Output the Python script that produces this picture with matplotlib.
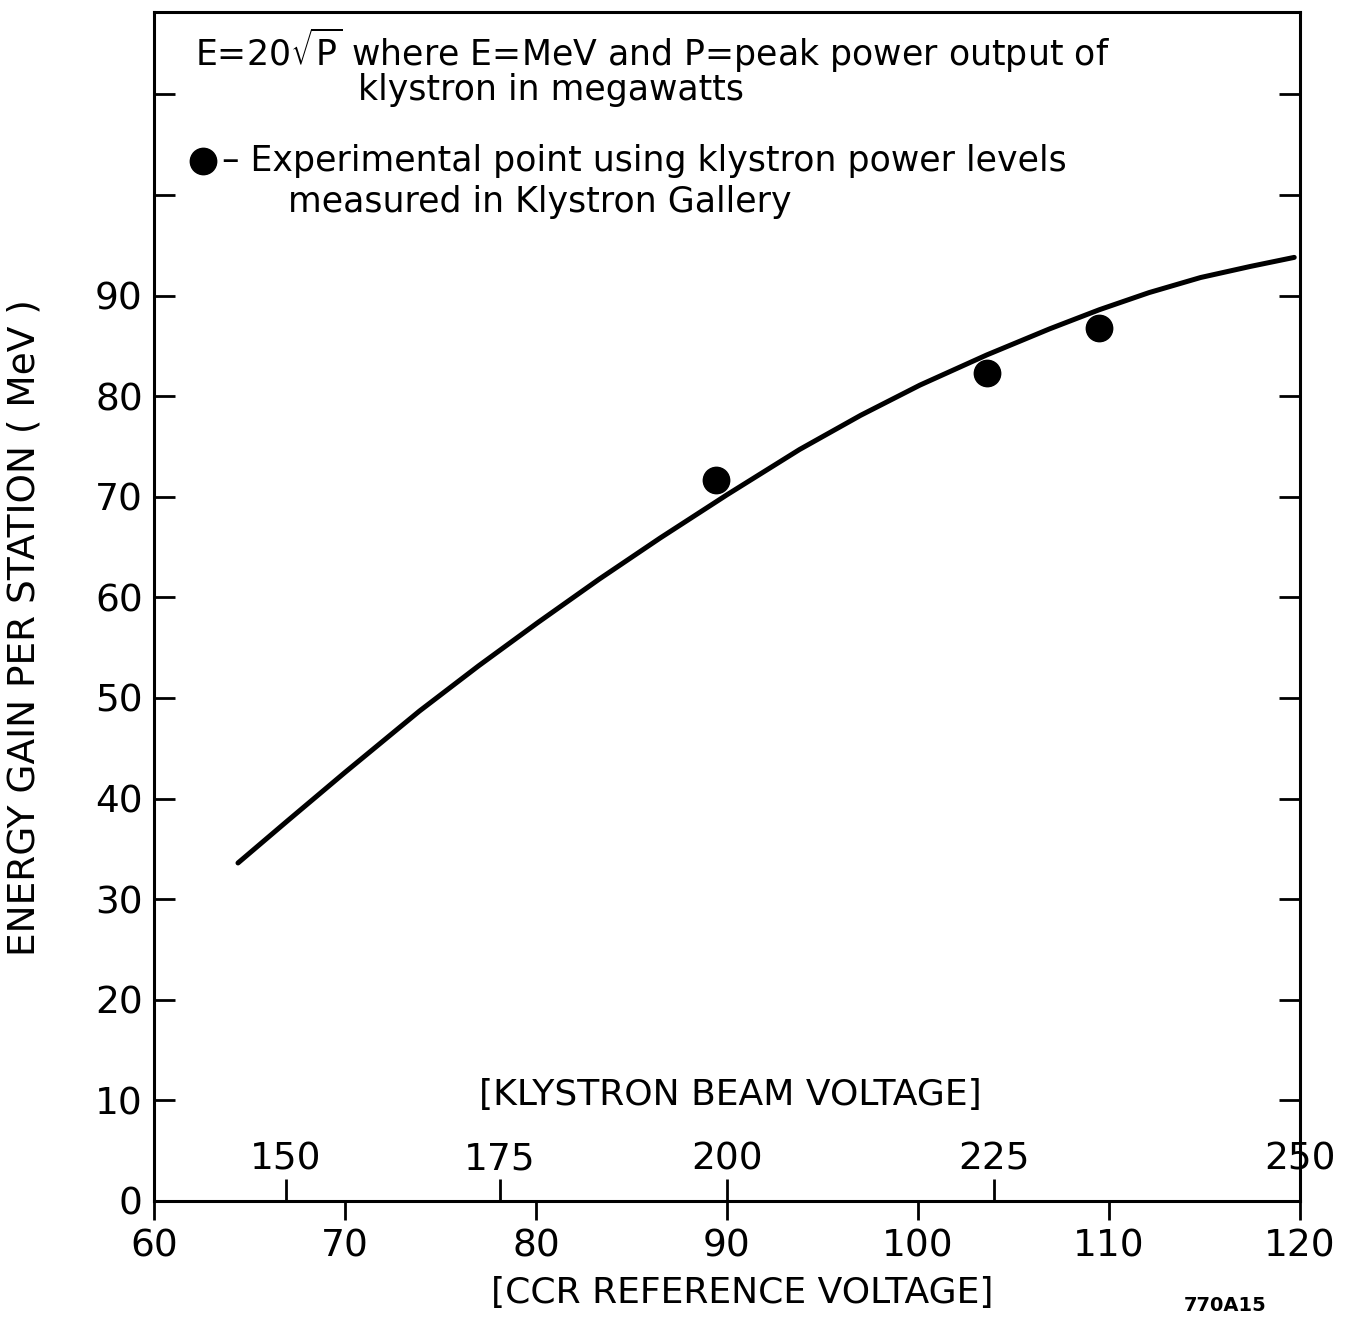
"""
Energy gain per station vs CCR reference voltage (klystron beam voltage scale)
"""
import matplotlib
matplotlib.use("Agg")
import matplotlib.pyplot as plt

# curve E = 20 sqrt(P)
ccr_curve = [64.4, 67.0, 70.0, 73.9, 77.0, 80.1, 83.3, 86.5, 90.0, 93.8,
             97.0, 100.1, 103.6, 106.9, 109.5, 112.1, 114.8, 117.4, 119.7]
e_curve = [33.6, 37.8, 42.6, 48.7, 53.2, 57.5, 61.8, 65.9, 70.2, 74.7,
           78.1, 81.1, 84.1, 86.7, 88.6, 90.3, 91.8, 92.9, 93.8]

# experimental points
ccr_pts = [89.4, 103.6, 109.5]
e_pts = [71.7, 82.3, 86.8]

ccr_ticks = [60, 70, 80, 90, 100, 110, 120]
y_ticks = [0, 10, 20, 30, 40, 50, 60, 70, 80, 90, 100, 110]
y_labels = ["0", "10", "20", "30", "40", "50", "60", "70", "80", "90", "", ""]
beam_pos = [66.9, 78.1, 90.0, 104.0, 120.0]
beam_labels = ["150", "175", "200", "225", "250"]

NUM_FS = 27
TXT_FS = 25

fig = plt.figure(figsize=(13.54, 13.26), dpi=100)
ax = fig.add_axes([0.1137, 0.0943, 0.8464, 0.8967])

ax.plot(ccr_curve, e_curve, "k-", lw=3.6, solid_capstyle="round",
        solid_joinstyle="round")
ax.plot(ccr_pts, e_pts, "ko", ms=19)

ax.set_xlim(60, 120)
ax.set_ylim(0, 118.2)
for s in ax.spines.values():
    s.set_linewidth(2.2)

ax.set_xticks(ccr_ticks)
ax.set_xticklabels([str(v) for v in ccr_ticks])
ax.set_yticks(y_ticks)
ax.set_yticklabels(y_labels)
ax.tick_params(axis="x", direction="out", length=14, width=2, pad=6,
               labelsize=NUM_FS)
ax.tick_params(axis="y", direction="in", length=15, width=2, pad=8,
               labelsize=NUM_FS, right=True)

# klystron beam voltage scale on the same bottom line, ticks up
ax2 = ax.twiny()
ax2.set_xlim(ax.get_xlim())
ax2.set_xticks(beam_pos)
ax2.set_xticklabels(beam_labels)
ax2.xaxis.set_ticks_position("bottom")
ax2.xaxis.set_label_position("bottom")
ax2.tick_params(axis="x", direction="in", length=16, width=2,
                pad=-43, labelsize=NUM_FS)
for s in ax2.spines.values():
    s.set_visible(False)

ax.set_ylabel("ENERGY GAIN PER STATION ( MeV )", fontsize=27)
ax.yaxis.set_label_coords(-0.097, 0.482)
ax.set_xlabel("[CCR REFERENCE VOLTAGE]", fontsize=26)
ax.xaxis.set_label_coords(0.513, -0.063)

ax.text(0.5026, 0.0892, "[KLYSTRON BEAM VOLTAGE]", transform=ax.transAxes,
        fontsize=26, ha="center", va="center")

ax.text(0.0358, 0.968, r"E=20$\sqrt{\mathrm{P}}$ where E=MeV and P=peak power output of",
        transform=ax.transAxes, fontsize=TXT_FS, va="center")
ax.text(0.178, 0.934, "klystron in megawatts", transform=ax.transAxes,
        fontsize=TXT_FS, va="center")
ax.plot([0.0428], [0.8747], "ko", ms=19, transform=ax.transAxes)
ax.text(0.0593, 0.8747, "– Experimental point using klystron power levels",
        transform=ax.transAxes, fontsize=TXT_FS, va="center")
ax.text(0.117, 0.840, "measured in Klystron Gallery", transform=ax.transAxes,
        fontsize=TXT_FS, va="center")

fig.text(0.905, 0.0158, "770A15", fontsize=14, fontweight="bold",
         ha="center", va="center")

fig.savefig("out.png", dpi=100)
